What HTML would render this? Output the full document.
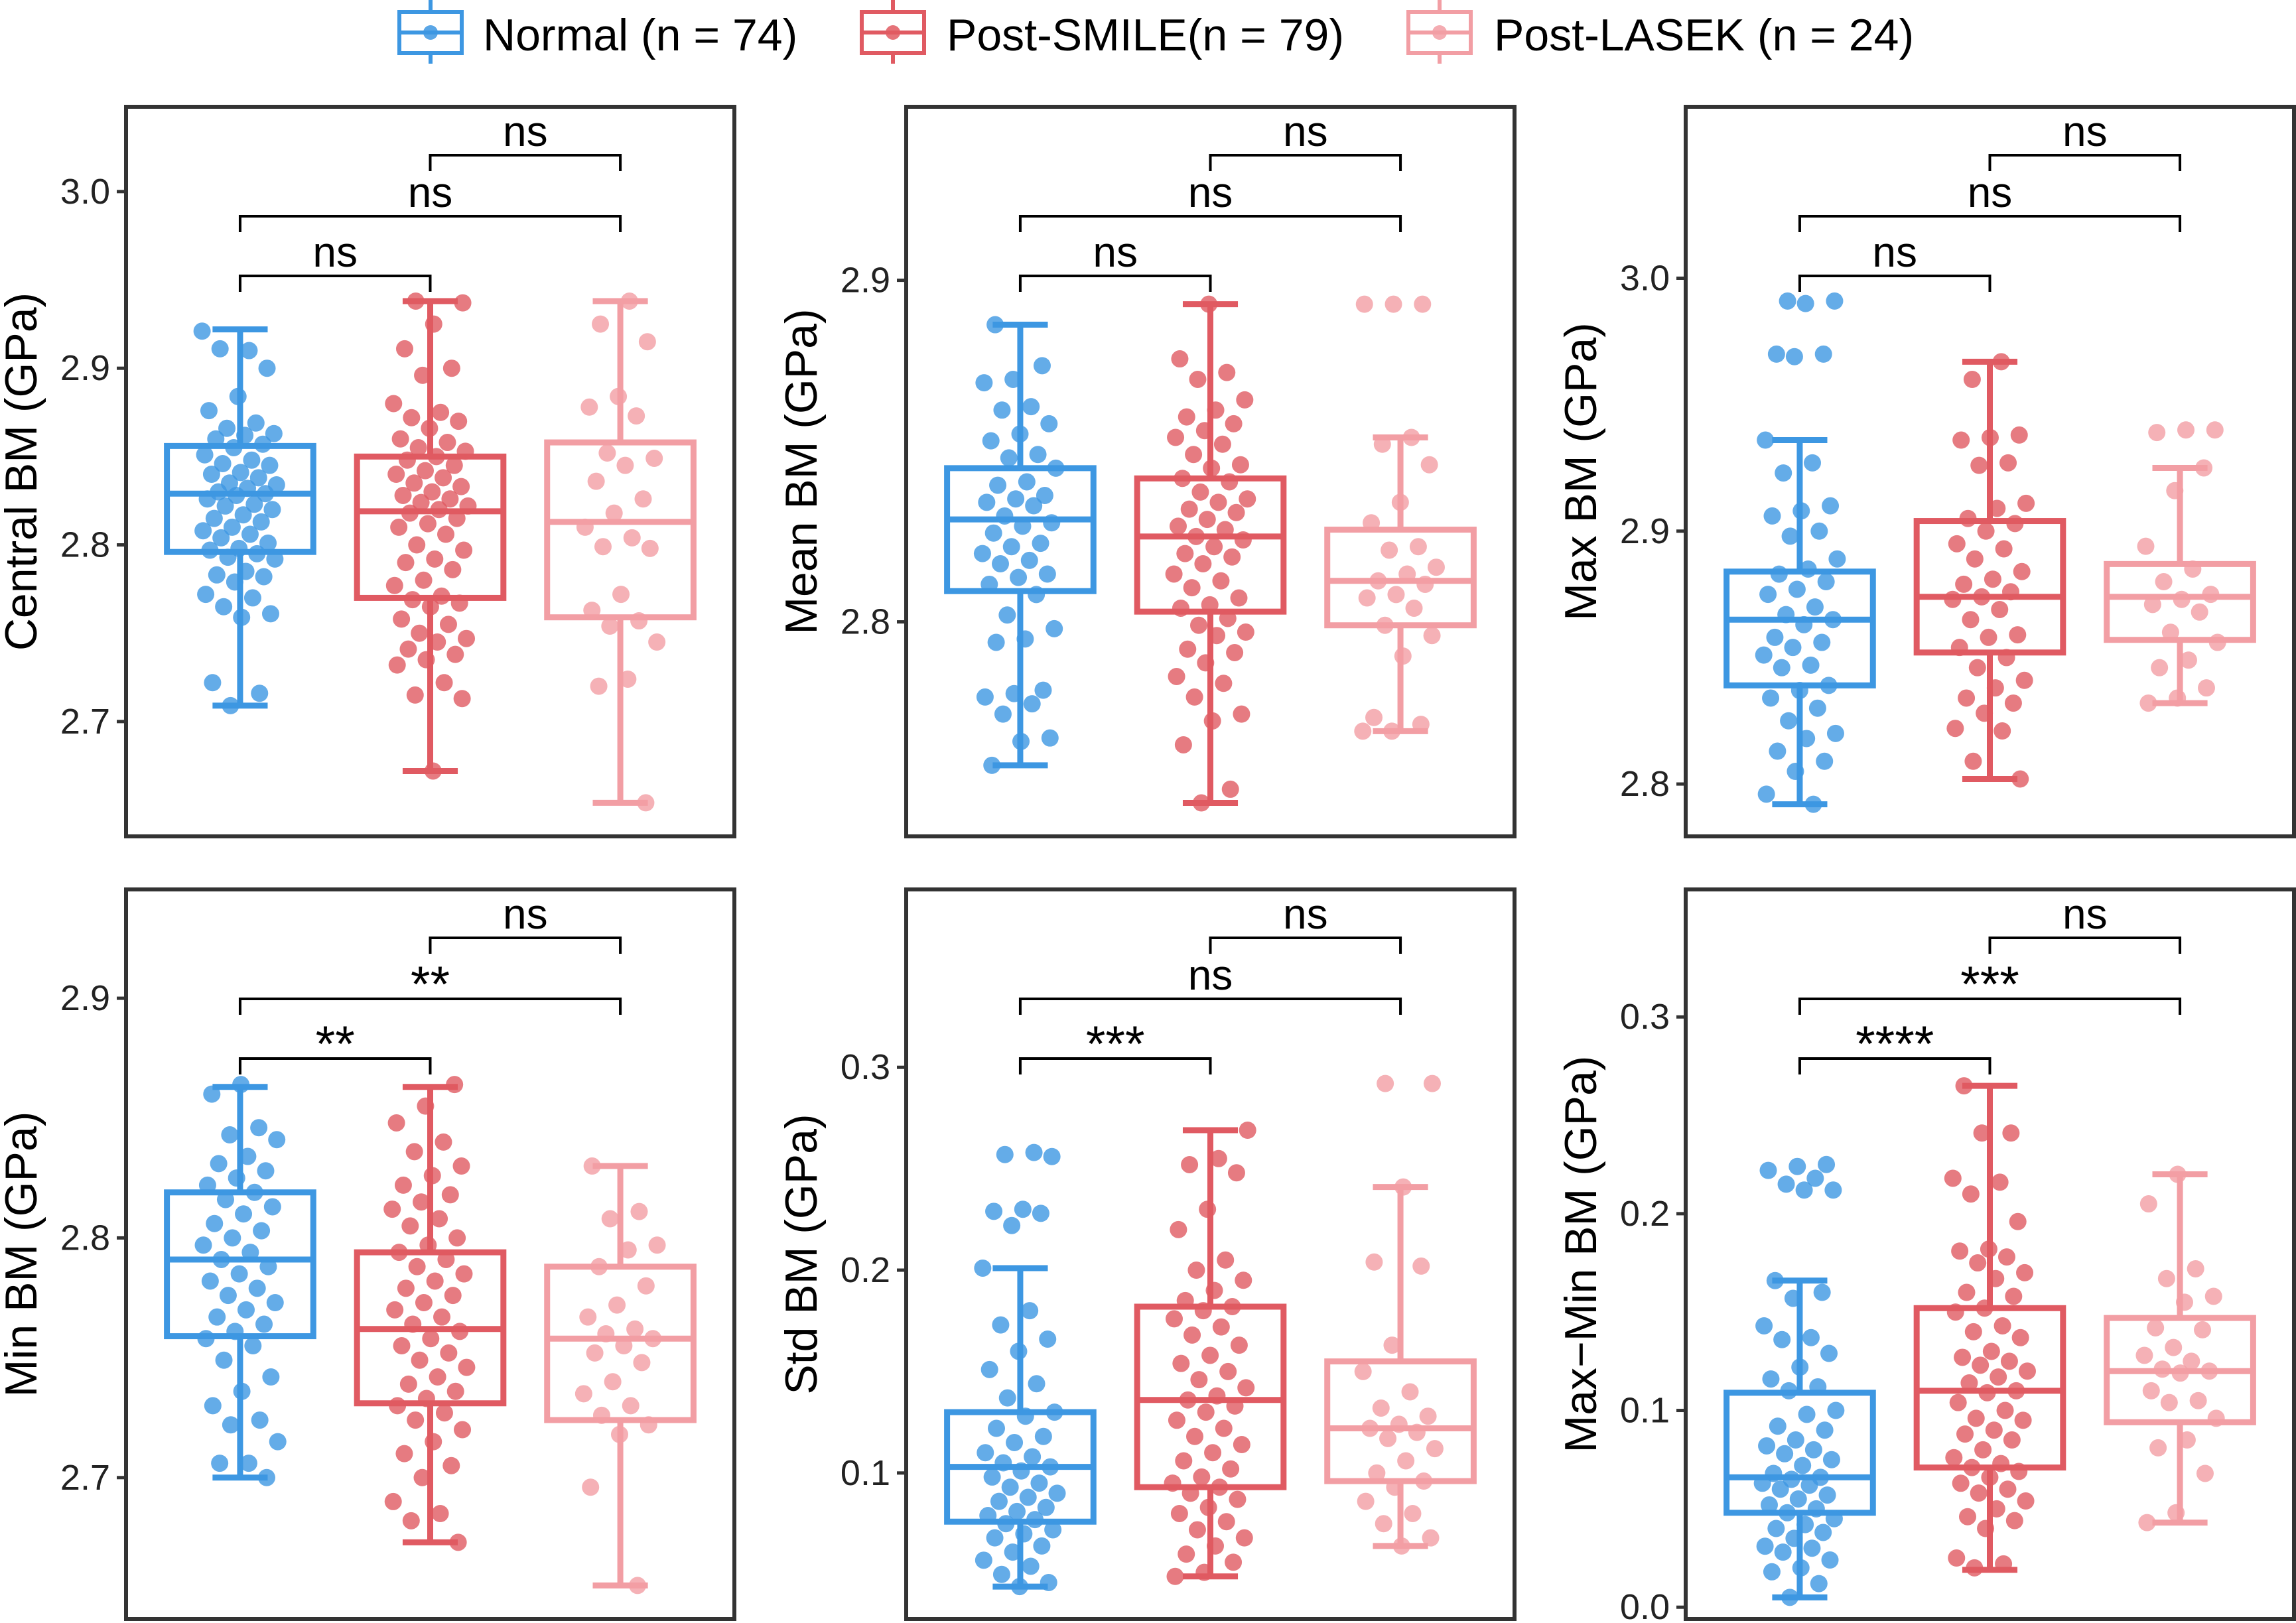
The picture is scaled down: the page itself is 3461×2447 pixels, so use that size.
<!DOCTYPE html>
<html><head><meta charset="utf-8">
<style>
html,body{margin:0;padding:0;background:#fff;}
svg{display:block;}
text{font-family:"Liberation Sans",Arial,sans-serif;}
</style></head>
<body>
<svg id="chart" width="3461" height="2447" viewBox="0 0 3461 2447" xmlns="http://www.w3.org/2000/svg">
<rect x="0" y="0" width="3461" height="2447" fill="#fff"/>
<g id="legend"></g>
<g id="panels"></g>
</svg>
<script>
const groups = ["Normal (n = 74)", "Post-SMILE(n = 79)", "Post-LASEK (n = 24)"];
const colors = ["#3d97e2", "#e05a62", "#f29ea4"];
const titles = ["Central BM (GPa)", "Mean BM (GPa)", "Max BM (GPa)", "Min BM (GPa)", "Std BM (GPa)", "Max\u2212Min BM (GPa)"];
const domains = [[2.635,3.048],[2.7372,2.9508],[2.7793,3.0678],[2.641,2.9454],[0.028,0.3877],[-0.006,0.3648]];
const ticks = [[2.7,2.8,2.9,3.0],[2.8,2.9],[2.8,2.9,3.0],[2.7,2.8,2.9],[0.1,0.2,0.3],[0.0,0.1,0.2,0.3]];
// box stats: [lowWhisker, Q1, median, Q3, highWhisker] per group
const stats1 = [[2.709,2.796,2.829,2.856,2.922],[2.672,2.770,2.819,2.850,2.938],[2.654,2.759,2.813,2.858,2.938]];
const stats2 = [[2.758,2.809,2.830,2.845,2.887],[2.747,2.803,2.825,2.842,2.893],[2.768,2.799,2.812,2.827,2.854]];
const stats3 = [[2.792,2.839,2.865,2.884,2.936],[2.802,2.852,2.874,2.904,2.967],[2.832,2.857,2.874,2.887,2.925]];
const stats4 = [[2.700,2.759,2.791,2.819,2.863],[2.673,2.731,2.762,2.794,2.863],[2.655,2.724,2.758,2.788,2.830]];
const stats5 = [[0.044,0.076,0.103,0.130,0.201],[0.049,0.093,0.136,0.182,0.269],[0.064,0.096,0.122,0.155,0.241]];
const stats6 = [[0.005,0.048,0.066,0.109,0.166],[0.019,0.071,0.110,0.152,0.265],[0.043,0.094,0.120,0.147,0.220]];
const p1Normal = [2.921,2.910,2.911,2.900,2.884,2.876,2.869,2.866,2.863,2.862,2.860,2.857,2.855,2.851,2.848,2.846,2.845,2.841,2.840,2.838,2.835,2.834,2.832,2.830,2.829,2.828,2.826,2.823,2.822,2.820,2.817,2.815,2.813,2.810,2.808,2.806,2.804,2.801,2.798,2.797,2.795,2.793,2.792,2.785,2.783,2.782,2.779,2.772,2.770,2.765,2.761,2.759,2.722,2.716,2.709];
const p1Smile = [2.938,2.937,2.925,2.911,2.900,2.896,2.880,2.875,2.872,2.870,2.866,2.860,2.858,2.855,2.853,2.850,2.848,2.845,2.842,2.840,2.838,2.835,2.833,2.830,2.828,2.826,2.824,2.822,2.820,2.818,2.815,2.812,2.810,2.806,2.800,2.797,2.792,2.790,2.786,2.780,2.777,2.771,2.769,2.767,2.765,2.758,2.755,2.750,2.747,2.745,2.741,2.738,2.735,2.732,2.722,2.715,2.713,2.672];
const p1Lasek = [2.938,2.925,2.915,2.884,2.878,2.873,2.852,2.849,2.845,2.836,2.826,2.818,2.810,2.804,2.799,2.798,2.772,2.763,2.757,2.754,2.745,2.724,2.720,2.654];
const p2Normal = [2.887,2.875,2.871,2.870,2.863,2.862,2.858,2.855,2.853,2.849,2.848,2.845,2.841,2.840,2.837,2.836,2.835,2.834,2.831,2.829,2.828,2.826,2.823,2.822,2.820,2.818,2.817,2.814,2.813,2.811,2.808,2.802,2.798,2.795,2.794,2.780,2.779,2.778,2.776,2.773,2.766,2.765,2.758];
const p2Smile = [2.893,2.877,2.873,2.871,2.865,2.862,2.860,2.858,2.856,2.854,2.852,2.849,2.846,2.845,2.842,2.841,2.838,2.836,2.835,2.833,2.832,2.830,2.828,2.827,2.825,2.824,2.822,2.820,2.819,2.817,2.814,2.812,2.810,2.807,2.805,2.804,2.801,2.799,2.797,2.796,2.792,2.791,2.788,2.784,2.782,2.778,2.773,2.771,2.764,2.751,2.747];
const p2Lasek = [2.893,2.893,2.893,2.854,2.852,2.846,2.835,2.829,2.822,2.821,2.816,2.814,2.812,2.811,2.808,2.807,2.804,2.799,2.796,2.790,2.772,2.770,2.768,2.768];
const p3Normal = [2.991,2.991,2.990,2.970,2.970,2.969,2.936,2.927,2.923,2.910,2.908,2.906,2.900,2.898,2.889,2.885,2.883,2.880,2.877,2.875,2.870,2.867,2.865,2.863,2.858,2.856,2.854,2.851,2.847,2.846,2.839,2.837,2.834,2.830,2.825,2.820,2.818,2.813,2.809,2.805,2.796,2.792];
const p3Smile = [2.967,2.960,2.938,2.937,2.936,2.927,2.926,2.911,2.909,2.905,2.903,2.900,2.895,2.893,2.889,2.884,2.881,2.879,2.876,2.874,2.873,2.869,2.865,2.859,2.858,2.854,2.850,2.846,2.841,2.838,2.834,2.832,2.828,2.822,2.821,2.809,2.802];
const p3Lasek = [2.940,2.940,2.939,2.925,2.916,2.894,2.885,2.880,2.875,2.873,2.871,2.868,2.860,2.856,2.849,2.846,2.838,2.834,2.832];
const p4Normal = [2.864,2.860,2.846,2.843,2.841,2.834,2.831,2.828,2.825,2.822,2.819,2.816,2.813,2.810,2.806,2.803,2.800,2.797,2.794,2.791,2.788,2.785,2.782,2.779,2.776,2.773,2.770,2.767,2.764,2.761,2.758,2.755,2.749,2.742,2.736,2.730,2.724,2.722,2.715,2.706,2.706,2.700];
const p4Smile = [2.864,2.855,2.848,2.840,2.836,2.830,2.826,2.822,2.818,2.815,2.812,2.808,2.805,2.800,2.797,2.794,2.791,2.788,2.785,2.782,2.779,2.776,2.773,2.770,2.767,2.764,2.761,2.758,2.755,2.752,2.749,2.746,2.742,2.739,2.736,2.733,2.730,2.727,2.724,2.720,2.715,2.710,2.705,2.700,2.690,2.685,2.682,2.673];
const p4Lasek = [2.830,2.811,2.808,2.797,2.795,2.788,2.780,2.772,2.767,2.762,2.760,2.758,2.755,2.752,2.748,2.740,2.735,2.730,2.726,2.722,2.718,2.696,2.655];
const p5Normal = [0.258,0.257,0.256,0.230,0.229,0.228,0.222,0.201,0.180,0.173,0.166,0.160,0.151,0.144,0.137,0.130,0.128,0.122,0.118,0.115,0.110,0.108,0.105,0.103,0.101,0.098,0.095,0.093,0.090,0.088,0.086,0.083,0.081,0.079,0.077,0.075,0.072,0.070,0.068,0.064,0.061,0.057,0.054,0.050,0.046,0.044];
const p5Smile = [0.269,0.255,0.252,0.248,0.230,0.220,0.205,0.200,0.195,0.190,0.185,0.182,0.180,0.176,0.172,0.168,0.163,0.158,0.154,0.150,0.146,0.142,0.138,0.136,0.133,0.130,0.126,0.122,0.118,0.114,0.110,0.106,0.102,0.098,0.095,0.093,0.090,0.087,0.083,0.080,0.076,0.072,0.068,0.064,0.060,0.056,0.051,0.049];
const p5Lasek = [0.292,0.292,0.241,0.204,0.202,0.163,0.150,0.140,0.132,0.128,0.124,0.122,0.120,0.117,0.112,0.106,0.100,0.096,0.093,0.086,0.080,0.075,0.068,0.064];
const p6Normal = [0.225,0.224,0.222,0.218,0.215,0.212,0.212,0.166,0.160,0.157,0.143,0.137,0.136,0.129,0.122,0.116,0.112,0.110,0.100,0.098,0.092,0.090,0.085,0.082,0.080,0.078,0.075,0.072,0.068,0.066,0.065,0.063,0.062,0.060,0.057,0.055,0.052,0.050,0.048,0.045,0.042,0.040,0.038,0.035,0.031,0.030,0.028,0.024,0.020,0.018,0.012,0.005];
const p6Smile = [0.265,0.241,0.241,0.218,0.216,0.210,0.196,0.182,0.181,0.178,0.175,0.170,0.167,0.160,0.158,0.152,0.150,0.143,0.140,0.137,0.130,0.127,0.125,0.123,0.120,0.117,0.114,0.110,0.109,0.104,0.100,0.096,0.095,0.090,0.088,0.085,0.080,0.076,0.073,0.071,0.069,0.066,0.063,0.060,0.058,0.054,0.050,0.046,0.044,0.040,0.025,0.022,0.020];
const p6Lasek = [0.220,0.205,0.172,0.167,0.158,0.155,0.142,0.141,0.132,0.128,0.125,0.121,0.120,0.119,0.110,0.105,0.104,0.096,0.085,0.081,0.068,0.048,0.043];
// significance labels: [1 vs 2, 1 vs 3, 2 vs 3]
const sig1 = ["ns","ns","ns"], sig2 = ["ns","ns","ns"], sig3 = ["ns","ns","ns"];
const sig4 = ["**","**","ns"], sig5 = ["***","ns","ns"], sig6 = ["****","***","ns"];

const allStats = [stats1,stats2,stats3,stats4,stats5,stats6];
const allPoints = [[p1Normal,p1Smile,p1Lasek],[p2Normal,p2Smile,p2Lasek],[p3Normal,p3Smile,p3Lasek],[p4Normal,p4Smile,p4Lasek],[p5Normal,p5Smile,p5Lasek],[p6Normal,p6Smile,p6Lasek]];
const allSig = [sig1,sig2,sig3,sig4,sig5,sig6];
const panelKeys = ["central","mean","max","min","std","maxmin"];

const NS = "http://www.w3.org/2000/svg";
function mk(tag, attrs, parent) {
  const e = document.createElementNS(NS, tag);
  for (const k in attrs) e.setAttribute(k, attrs[k]);
  if (parent) parent.appendChild(e);
  return e;
}
const colLeft = [190, 1366, 2541], rowTop = [161, 1341];
const PW = 917, PH = 1100;

// legend
const legend = document.getElementById('legend');
const keyX = [602, 1299, 2123], textX = [728, 1427, 2252];
groups.forEach((g, i) => {
  const item = mk('g', {}, legend);
  
  
  const c = colors[i];
  mk('line', {x1: keyX[i]+47, x2: keyX[i]+47, y1: 0, y2: 96, stroke: c, 'stroke-width': 6}, item);
  mk('rect', {x: keyX[i], y: 18, width: 94, height: 62, fill: '#fff', stroke: c, 'stroke-width': 6}, item);
  mk('line', {x1: keyX[i], x2: keyX[i]+94, y1: 49, y2: 49, stroke: c, 'stroke-width': 6}, item);
  mk('circle', {cx: keyX[i]+47, cy: 49, r: 11, fill: c, 'fill-opacity': 0.85}, item);
  const t = mk('text', {x: textX[i], y: 76, 'font-size': 68, fill: '#000'}, item);
  t.textContent = g;
});

const panelsG = document.getElementById('panels');
for (let p = 0; p < 6; p++) {
  const L = colLeft[p % 3], T = rowTop[Math.floor(p / 3)];
  const [d0, d1] = domains[p];
  const yS = v => T + (d1 - v) / (d1 - d0) * PH;
  const unit = PW / 3.2;
  const xS = k => L + unit * (k + 1 - 0.4);
  const g = mk('g', {}, panelsG);
  
  

  const cy = T + PH / 2, cx = L - 158;
  const yt = mk('text', {x: cx, y: cy, 'font-size': 68, 'text-anchor': 'middle', 'dominant-baseline': 'central', transform: `rotate(-90 ${cx} ${cy})`, fill: '#000'}, g);
  
  
  yt.textContent = titles[p];

  ticks[p].forEach(tv => {
    const y = yS(tv);
    const tl = mk('line', {x1: L - 14, x2: L, y1: y, y2: y, stroke: '#333', 'stroke-width': 5}, g);
    
    
    const tt = mk('text', {x: L - 24, y: y, 'font-size': 54, 'text-anchor': 'end', 'dominant-baseline': 'central', fill: '#222'}, g);
    
    
    tt.textContent = tv.toFixed(1);
  });

  const bw = unit * 0.77, cw = unit * 0.29;
  for (let k = 0; k < 3; k++) {
    const s = allStats[p][k], c = colors[k], x = xS(k);
    const bg = mk('g', {}, g);
    
    
    mk('line', {x1: x, x2: x, y1: yS(s[4]), y2: yS(s[3]), stroke: c, 'stroke-width': 9}, bg);
    mk('line', {x1: x, x2: x, y1: yS(s[1]), y2: yS(s[0]), stroke: c, 'stroke-width': 9}, bg);
    mk('line', {x1: x - cw/2, x2: x + cw/2, y1: yS(s[4]), y2: yS(s[4]), stroke: c, 'stroke-width': 9}, bg);
    mk('line', {x1: x - cw/2, x2: x + cw/2, y1: yS(s[0]), y2: yS(s[0]), stroke: c, 'stroke-width': 9}, bg);
    mk('rect', {x: x - bw/2, y: yS(s[3]), width: bw, height: yS(s[1]) - yS(s[3]), fill: '#fff', stroke: c, 'stroke-width': 9}, bg);
    mk('line', {x1: x - bw/2, x2: x + bw/2, y1: yS(s[2]), y2: yS(s[2]), stroke: c, 'stroke-width': 9}, bg);
  }
  for (let k = 0; k < 3; k++) {
    const pts = allPoints[p][k], c = colors[k], x = xS(k);
    pts.forEach((v, i) => {
      const j = (((i * 0.618034 + k * 0.31 + p * 0.17) % 1) - 0.5) * 0.4 * unit;
      const pt = mk('circle', {cx: x + j, cy: yS(v), r: 13, fill: c, 'fill-opacity': 0.8}, g);
      
      
    });
  }
  const pairs = [[0,1,255],[0,2,165],[1,2,73]];
  pairs.forEach((pr, i) => {
    const y = T + pr[2], x1 = xS(pr[0]), x2 = xS(pr[1]);
    const br = mk('g', {}, g);
    
    
    mk('path', {d: `M${x1},${y+24} L${x1},${y} L${x2},${y} L${x2},${y+24}`, fill: 'none', stroke: '#000', 'stroke-width': 4}, br);
    const lab = allSig[p][i];
    const isStar = lab.indexOf('*') >= 0;
    const lt = mk('text', {x: (x1 + x2) / 2, y: isStar ? y + 4 : y - 14, 'font-size': isStar ? 76 : 64, 'text-anchor': 'middle', fill: '#000'}, br);
    lt.textContent = lab;
  });
  const fr = mk('rect', {x: L, y: T, width: PW, height: PH, fill: 'none', stroke: '#333', 'stroke-width': 6}, g);
  
  
}
</script>
</body></html>
